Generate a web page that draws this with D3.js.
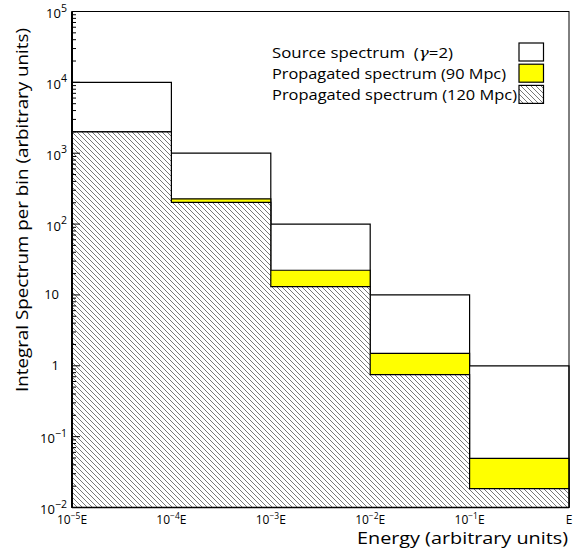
<!DOCTYPE html>
<html><head><meta charset="utf-8">
<script src="https://cdn.jsdelivr.net/npm/d3@7"></script>
<style>
body{margin:0;background:#fff}
svg text{font-family:"Open Sans","DejaVu Sans",sans-serif;white-space:pre;fill:#000}
</style></head>
<body><svg id="c" width="578" height="553"></svg>
<script>
// ---- data ----
const binEdges = [1e-5, 1e-4, 1e-3, 1e-2, 1e-1, 1];
const xTickLabels = ["10^-5E", "10^-4E", "10^-3E", "10^-2E", "10^-1E", "E"];
const sourceSpectrum = [10000, 1000, 100, 10, 1];
const propagated90 = [2000, 227, 22.3, 1.5, 0.0495];
const propagated120 = [2000, 202, 13.1, 0.75, 0.0185];
const yTickValues = [0.01, 0.1, 1, 10, 100, 1000, 10000, 100000];
const yTickLabels = ["10^-2", "10^-1", "1", "10", "10^2", "10^3", "10^4", "10^5"];
const legendLabels = ["Source spectrum  (\u03b3=2)", "Propagated spectrum (90 Mpc)", "Propagated spectrum (120 Mpc)"];
const xTitle = "Energy (arbitrary units)";
const yTitle = "Integral Spectrum per bin (arbitrary units)";

// ---- layout ----
const L = 72, R = 569, T = 11.5, B = 507.5;
const svg = d3.select("#c");
const x = d3.scaleLog().domain([binEdges[0], binEdges[binEdges.length - 1]]).range([L, R]);
const y = d3.scaleLog().domain([0.01, 1e5]).range([B, T]);
const yMin = y.domain()[0];

const defs = svg.append("defs");
const pat = defs.append("pattern").attr("id", "hatch").attr("patternUnits", "userSpaceOnUse")
  .attr("width", 5).attr("height", 5);
pat.append("rect").attr("width", 5).attr("height", 5).attr("fill", "#fff");
pat.append("path").attr("d", "M0,0L5,5M-1,4L1,6M4,-1L6,1")
  .attr("stroke", "#555").attr("stroke-width", 0.8);

function drawHist(values, fill) {
  const pts = values.flatMap((v, i) => [[binEdges[i], v], [binEdges[i + 1], v]]);
  const area = d3.area().x(d => x(d[0])).y0(y(yMin)).y1(d => y(d[1]));
  svg.append("path").attr("d", area(pts)).attr("fill", fill);
  const outline = [[binEdges[0], yMin], ...pts, [binEdges[binEdges.length - 1], yMin]];
  svg.append("path").attr("d", d3.line().x(d => x(d[0])).y(d => y(d[1]))(outline))
    .attr("fill", "none").attr("stroke", "#000").attr("stroke-width", 1.2);
}
drawHist(sourceSpectrum, "#fff");
drawHist(propagated90, "#ffff00");
drawHist(propagated120, "url(#hatch)");

// frame
svg.append("rect").attr("x", L).attr("y", T).attr("width", R - L).attr("height", B - T)
  .attr("fill", "none").attr("stroke", "#000").attr("stroke-width", 1);
svg.append("line").attr("x1", L).attr("x2", L).attr("y1", T).attr("y2", B)
  .attr("stroke", "#000").attr("stroke-width", 2);
svg.append("line").attr("x1", L).attr("x2", R).attr("y1", B).attr("y2", B)
  .attr("stroke", "#000").attr("stroke-width", 1.5);

// y ticks
const minor = [];
for (let k = -2; k < 5; k++) for (let m = 2; m <= 9; m++) minor.push(m * Math.pow(10, k));
svg.append("g").selectAll("line").data(minor).join("line")
  .attr("x1", L).attr("x2", L + 4).attr("y1", d => y(d)).attr("y2", d => y(d))
  .attr("stroke", "#000").attr("stroke-width", 1);
svg.append("g").selectAll("line").data(yTickValues).join("line")
  .attr("x1", L).attr("x2", L + 8).attr("y1", d => y(d)).attr("y2", d => y(d))
  .attr("stroke", "#000").attr("stroke-width", 1);

// y tick labels
yTickLabels.forEach((lab, i) => {
  const yy = y(yTickValues[i]);
  if (lab.includes("^")) {
    const [b, e] = lab.split("^");
    const t = svg.append("text").attr("x", 67).attr("y", yy + 6.5).attr("text-anchor", "end")
      .attr("font-size", 13);
    t.append("tspan").text(b);
    t.append("tspan").attr("dy", -6.5).attr("font-size", 10.5).text(e.replace("-", "\u2212"));
  } else {
    svg.append("text").attr("x", 59).attr("y", yy + 4.5).attr("text-anchor", "end")
      .attr("font-size", 13).text(lab);
  }
});

// x tick labels
xTickLabels.forEach((lab, i) => {
  const xx = x(binEdges[i]);
  const t = svg.append("text").attr("x", xx).attr("y", 523.5).attr("text-anchor", "middle")
    .attr("font-size", 12);
  if (lab.includes("^")) {
    const m = lab.match(/^(\d+)\^(-?\d)(.*)$/);
    t.append("tspan").text(m[1]);
    t.append("tspan").attr("dy", -5).attr("font-size", 8.5).text(m[2].replace("-", "\u2212"));
    t.append("tspan").attr("dy", 5).text(m[3]);
  } else t.text(lab);
});

// axis titles
svg.append("text").attr("x", 568).attr("y", 544).attr("text-anchor", "end")
  .attr("font-size", 17).attr("textLength", 211).attr("lengthAdjust", "spacingAndGlyphs").text(xTitle);
svg.append("text").attr("transform", "translate(28,28) rotate(-90)").attr("text-anchor", "end")
  .attr("font-size", 17).attr("textLength", 364).attr("lengthAdjust", "spacingAndGlyphs").text(yTitle);

// legend
const legFills = ["#fff", "#ffff00", "url(#hatch)"];
const legWidths = [181, 234, 245];
legendLabels.forEach((lab, i) => {
  const cy = 52 + i * 21.2;
  svg.append("rect").attr("x", 519).attr("y", cy - 9).attr("width", 24.5).attr("height", 18)
    .attr("fill", legFills[i]).attr("stroke", "#000").attr("stroke-width", 1.2);
  const t = svg.append("text").attr("x", 272).attr("y", cy + 5.5).attr("font-size", 15)
    .attr("textLength", legWidths[i]).attr("lengthAdjust", "spacingAndGlyphs");
  const gi = lab.indexOf("\u03b3");
  if (gi >= 0) {
    t.append("tspan").text(lab.slice(0, gi));
    t.append("tspan").style("font-family", "'DejaVu Serif',serif").style("font-style", "italic").text("\u03b3");
    t.append("tspan").text(lab.slice(gi + 1));
  } else t.text(lab);
});
</script></body></html>
